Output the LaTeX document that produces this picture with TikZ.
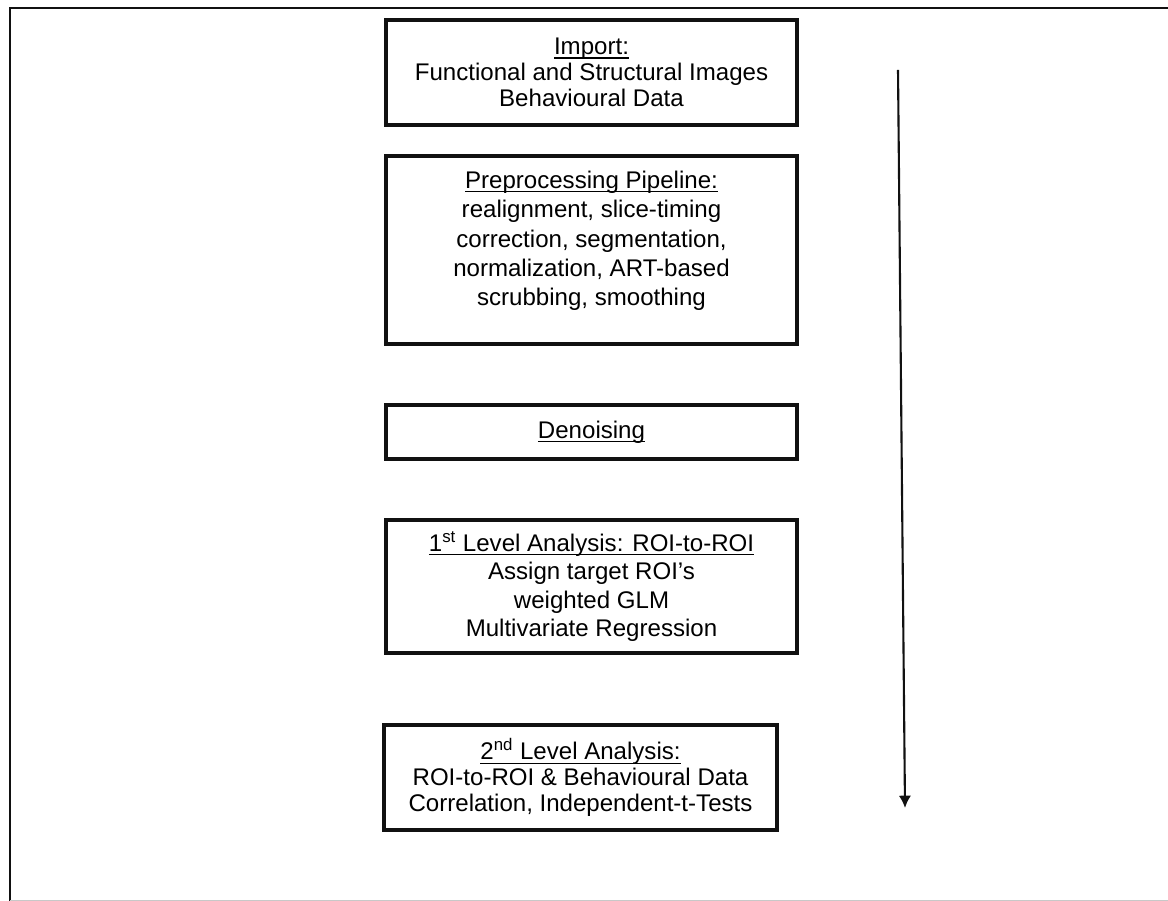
\documentclass[tikz,border=0pt]{standalone}
\usepackage{fontspec}
\setmainfont{Liberation Sans}
\usetikzlibrary{arrows.meta}
\definecolor{cizgiSiyah}{HTML}{111111}
\definecolor{cerceveGri}{HTML}{C8C8C8}
\newsavebox{\baslikKutu}
\newcommand{\baslik}[1]{\sbox{\baslikKutu}{#1}\rlap{\rule[-2.2pt]{\wd\baslikKutu}{0.6pt}}\usebox{\baslikKutu}}

\begin{document}
\begin{tikzpicture}[x=0.02cm,y=-0.02cm,
  kutu/.style={draw=cizgiSiyah,line width=1.9pt,align=center,minimum width=8.22cm,
    font=\fontsize{13.7}{14.8}\selectfont}]
\useasboundingbox (0,0) rectangle (1168,901);
% cerceve
\draw[cizgiSiyah,line width=1pt] (10,901)--(10,8)--(1168,8);
\draw[cerceveGri] (10,900)--(1168,900);
% kutular
\node[kutu,minimum height=2.1cm] (import) at (591.5,72.5)
  {\baslik{Import:}\\Functional and Structural Images\\Behavioural Data};
\node[kutu,minimum height=3.76cm,text depth=13pt,font=\fontsize{13.7}{16.7}\selectfont] (preproc) at (591.5,250)
  {\baslik{Preprocessing Pipeline:}\\realignment, slice-timing\\correction, segmentation,\\normalization, ART-based\\scrubbing, smoothing};
\node[kutu,minimum height=1.08cm] (denoise) at (591.5,432) {\baslik{Denoising}};
\node[kutu,minimum height=2.66cm,font=\fontsize{13.7}{16.2}\selectfont] (firstLevel) at (591.5,586.5)
  {\baslik{1\textsuperscript{st} Level Analysis: ROI-to-ROI}\\Assign target ROI’s\\weighted GLM\\Multivariate Regression};
\node[kutu,minimum width=7.86cm,minimum height=2.1cm] (secondLevel) at (580.5,777.5)
  {\baslik{2\textsuperscript{nd} Level Analysis:}\\ROI-to-ROI \& Behavioural Data\\Correlation, Independent-t-Tests};
% akis oku
\coordinate (okBas) at (898,70);
\coordinate (okUc) at (905,808);
\draw[cizgiSiyah,line width=1.2pt,-{Latex[length=7pt,width=7pt]}] (okBas)--(okUc);
\end{tikzpicture}
\end{document}
